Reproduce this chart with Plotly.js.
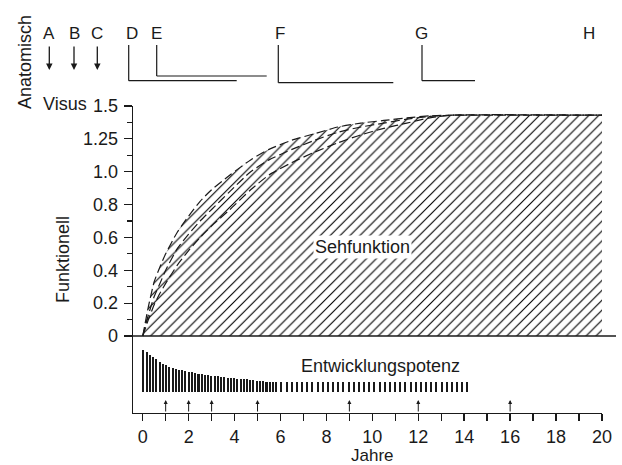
<!DOCTYPE html>
<html><head><meta charset="utf-8">
<script src="https://cdn.plot.ly/plotly-3.0.1.min.js"></script>
<style>html,body{margin:0;padding:0;background:#fff}#chart{width:622px;height:465px}</style>
</head><body><div id="chart"></div>
<script>
// ---------- data ----------
const curveYears   = [0,0.25,0.5,0.75,1,1.5,2,2.5,3,3.8,4.7,5.5,6.5,7.5,8.5,9.5,10.5,11.5,12.5,13.5,20];
const visusOuter   = [0,0.18,0.33,0.42,0.50,0.63,0.73,0.82,0.89,0.98,1.09,1.17,1.24,1.29,1.34,1.37,1.39,1.41,1.425,1.43,1.43];
const visusMiddle  = [0,0.13,0.24,0.32,0.40,0.53,0.62,0.70,0.77,0.88,1.00,1.09,1.17,1.24,1.30,1.34,1.37,1.40,1.42,1.43,1.43];
const visusInner   = [0,0.10,0.19,0.26,0.32,0.43,0.52,0.60,0.67,0.77,0.89,0.98,1.07,1.15,1.22,1.28,1.33,1.37,1.41,1.43,1.43];

const yTickVisus = [0,0.2,0.4,0.6,0.8,1.0,1.25,1.5];
const yTickText  = ['0','0.2','0.4','0.6','0.8','1.0','1.25','1.5'];
const yMinorVisus = [0.1,0.3,0.5,0.7,0.9,1.125,1.375];

// x axis: labelled every 2 years, ticked every year
const xLabelStep = 2;
const xTickStep = 1;

// Entwicklungspotenz (relative, first bar = 100)
const potYears = [0.03,0.17,0.31,0.45,0.59,0.74,0.88,1.02,1.16,1.30,1.44,1.58,1.72,1.86,2.00,2.15,2.29,2.43,2.57,2.71,
  2.85,2.99,3.13,3.27,3.41,3.56,3.70,3.84,3.98,4.12,4.26,4.40,4.54,4.68,4.82,4.97,5.11,5.25,5.39,5.53,5.67,5.81,
  6.04,6.27,6.49,6.72,6.94,7.17,7.39,7.62,7.84,8.07,8.29,8.52,8.74,8.97,9.19,9.42,9.64,9.87,10.09,10.32,10.54,
  10.77,10.99,11.22,11.44,11.67,11.89,12.12,12.34,12.57,12.79,13.02,13.24,13.47,13.69,13.92,14.14];
const potValues = [100,95,88,82,77,71,67,63,60,58,55,53,52,50,48,47,45,44,43,41,
  40.5,39,38,37.5,36,35,34.5,33.5,33,32,31,30.5,30,29,28,27.5,26.5,26,25,24.5,24,23.5,
  23.5,23.5,23.5,23.5,23.5,23.5,23.5,23.5,23.5,23.5,23.5,23.5,23.5,23.5,23.5,23.5,23.5,23.5,23.5,23.5,23.5,
  23.5,23.5,23.5,23.5,23.5,23.5,23.5,23.5,23.5,23.5,23.5,23.5,23.5,23.5,23.5,23.5];

const periodArrowYears = [1,2,3,5,9,12,16];
const anatLetters = ['A','B','C','D','E','F','G','H'];

// ---------- scale helpers (axis is 0..1 in steps of 0.2, then 0.25) ----------
const toPos = v => v <= 1 ? v / 0.2 : 5 + (v - 1) / 0.25;
const potBase = -(392.3 - 336) / 32.86;
const potScale = 0.427 / 32.86;

// pixel geometry of the plot area
const W = 622, H = 465, L = 133, R = 20, T = 106, B = 52;
const pw = W - L - R, ph = H - T - B;
const px = x => (x - L) / pw;
const py = y => (H - B - y) / ph;

const font = 'Liberation Sans, Arial, sans-serif';
const ink = '#1a1a1a';

const dashed = {color: ink, width: 1.2, dash: '9px,4px', shape: 'spline', smoothing: 0.6};

const traces = [
  {x: curveYears, y: visusOuter.map(toPos), type: 'scatter', mode: 'lines', line: dashed,
   fill: 'tozeroy', fillcolor: 'white',
   fillpattern: {shape: '/', size: 7, solidity: 0.16, fgcolor: '#000', bgcolor: 'white'},
   hoverinfo: 'skip', showlegend: false},
  {x: curveYears, y: visusMiddle.map(toPos), type: 'scatter', mode: 'lines', line: dashed, hoverinfo: 'skip', showlegend: false},
  {x: curveYears, y: visusInner.map(toPos), type: 'scatter', mode: 'lines', line: dashed, hoverinfo: 'skip', showlegend: false},
  {x: potYears, y: potValues.map(p => p * potScale), base: potBase, type: 'bar', width: 0.09,
   marker: {color: ink, line: {width: 0}}, hoverinfo: 'skip', showlegend: false}
];

const A = (o) => Object.assign({xref: 'paper', yref: 'paper', xanchor: 'center', yanchor: 'middle', showarrow: false}, o);
const annotations = [];
const letterX = [49.3, 74, 97.3, 131.7, 156, 280, 421.7, 589.3];
anatLetters.forEach((t, i) => annotations.push(A({text: t, x: px(letterX[i]), y: py(34),
  font: {family: font, size: 17, color: ink}})));
[0,1,2].forEach(i => annotations.push({text: '', xref: 'paper', yref: 'paper', x: px(letterX[i]), y: py(70),
  showarrow: true, ax: 0, ay: -25, arrowhead: 2, arrowsize: 1, arrowwidth: 1.3, arrowcolor: ink}));
periodArrowYears.forEach(yr => annotations.push({text: '', xref: 'x', yref: 'paper', x: yr, y: py(400),
  showarrow: true, ax: 0, ay: 13, arrowhead: 2, arrowsize: 0.8, arrowwidth: 1, arrowcolor: ink}));
annotations.push(
  A({text: 'Anatomisch', textangle: -90, x: px(25), y: py(62), font: {family: font, size: 18, color: ink}}),
  A({text: 'Visus', x: px(64.5), y: py(104), font: {family: font, size: 18, color: ink}}),
  A({text: 'Funktionell', textangle: -90, x: px(63), y: py(260), font: {family: font, size: 18, color: ink}}),
  A({text: 'Jahre', x: px(372), y: py(455.5), font: {family: font, size: 17, color: ink}}),
  A({text: 'Sehfunktion', x: px(362), y: py(247), bgcolor: 'white', borderpad: 1, font: {family: font, size: 18, color: ink}}),
  A({text: 'Entwicklungspotenz', x: px(380.5), y: py(366), font: {family: font, size: 18, color: ink}})
);

const ln = (x0, y0, x1, y1) => ({type: 'line', xref: 'paper', yref: 'paper', x0: px(x0), y0: py(y0), x1: px(x1), y1: py(y1),
  line: {color: ink, width: 1.2}});
const shapes = [
  ln(128.7, 45, 128.7, 80.7), ln(128.7, 80.7, 236.7, 80.7),
  ln(156.7, 45, 156.7, 76), ln(156.7, 76, 266.7, 76),
  ln(278.3, 45, 278.3, 82.7), ln(278.3, 82.7, 393.3, 82.7),
  ln(422, 45, 422, 80.7), ln(422, 80.7, 475, 80.7),
  {type: 'line', xref: 'paper', yref: 'y', x0: 0, x1: px(616), y0: 0, y1: 0, line: {color: ink, width: 1.5}}
];

const layout = {
  width: W, height: H,
  margin: {l: L, r: R, t: T, b: B, pad: 0},
  paper_bgcolor: 'white', plot_bgcolor: 'white',
  font: {family: font, color: ink},
  showlegend: false,
  xaxis: {range: [-(142.7 - L) / 22.95, 20], tickmode: 'linear', tick0: 0, dtick: xLabelStep,
    ticks: 'outside', ticklen: 7, tickwidth: 1.5, tickcolor: ink,
    minor: {tickmode: 'linear', tick0: 0, dtick: xTickStep, ticks: 'outside', ticklen: 7, tickwidth: 1.5, tickcolor: ink, showgrid: false},
    showline: true, linecolor: ink, linewidth: 1.3,
    showgrid: false, zeroline: false, tickfont: {family: font, size: 18, color: ink}, fixedrange: true},
  yaxis: {range: [-(H - B - 336) / 32.86, toPos(1.5)], tickmode: 'array',
    tickvals: yTickVisus.map(toPos), ticktext: yTickText,
    ticks: 'outside', ticklen: 8, tickwidth: 1.2, tickcolor: ink,
    minor: {tickmode: 'array', tickvals: yMinorVisus.map(toPos), ticks: 'outside', ticklen: 5, tickwidth: 1.2, tickcolor: ink, showgrid: false},
    showline: true, linecolor: ink, linewidth: 1.3, showgrid: false, zeroline: false,
    tickfont: {family: font, size: 18, color: ink}, ticklabelstandoff: 2, fixedrange: true},
  bargap: 0,
  annotations: annotations,
  shapes: shapes
};

Plotly.newPlot('chart', traces, layout, {displayModeBar: false, staticPlot: true});
</script>
</body></html>
